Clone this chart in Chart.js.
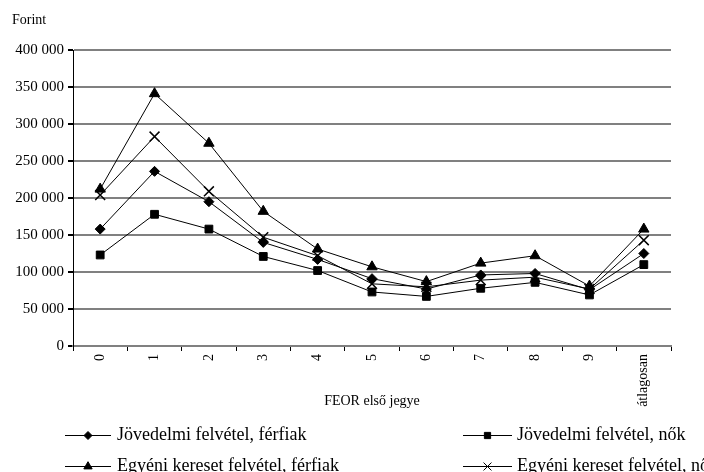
<!DOCTYPE html>
<html>
<head>
<meta charset="utf-8">
<script src="https://cdn.jsdelivr.net/npm/chart.js@4/dist/chart.umd.min.js"></script>
<style>
html,body{margin:0;padding:0;background:#fff;}
canvas{display:block;}
</style>
</head>
<body>
<canvas id="c" width="704" height="472"></canvas>
<script>
const categories = ['0','1','2','3','4','5','6','7','8','9','átlagosan'];
const jovedelmiFerfiak = [158000, 236000, 195000, 140000, 117000, 91000, 77000, 96000, 98000, 76000, 125000];
const jovedelmiNok     = [123000, 178000, 158000, 121000, 102000, 73000, 67000, 78000, 86000, 69000, 110000];
const egyeniFerfiak    = [212000, 341000, 274000, 182000, 131000, 107000, 87000, 112000, 122000, 81000, 158000];
const egyeniNok        = [204000, 283000, 209000, 147000, 122000, 84000, 80000, 89000, 93000, 77000, 143000];
const seriesNames = ['Jövedelmi felvétel, férfiak','Jövedelmi felvétel, nők','Egyéni kereset felvétel, férfiak','Egyéni kereset felvétel, nők'];
const yTitle = 'Forint';
const xTitle = 'FEOR első jegye';

const SERIF = '"Liberation Serif", "Times New Roman", serif';

function ds(label, data, style, radius) {
  return {
    label, data,
    borderColor: '#000', backgroundColor: '#000',
    borderWidth: 1,
    pointStyle: style, pointRadius: radius, pointHoverRadius: radius,
    pointBorderColor: '#000', pointBackgroundColor: '#000', pointBorderWidth: 1,
    tension: 0, fill: false
  };
}

const datasets = [
  ds(seriesNames[0], jovedelmiFerfiak, 'rectRot', 5),
  ds(seriesNames[1], jovedelmiNok, 'rect', 5.5),
  ds(seriesNames[2], egyeniFerfiak, 'triangle', 6),
  ds(seriesNames[3], egyeniNok, 'crossRot', 7)
];
datasets[3].pointBorderWidth = 1.5;

const legendLayout = [
  {x1: 65, x2: 111, tx: 117, y: 435},
  {x1: 463, x2: 512, tx: 517, y: 435},
  {x1: 65, x2: 111, tx: 117, y: 466},
  {x1: 463, x2: 512, tx: 517, y: 466}
];

const extras = {
  id: 'extras',
  afterDraw(chart) {
    const ctx = chart.ctx;
    ctx.save();
    ctx.fillStyle = '#000';
    ctx.font = '14px ' + SERIF;
    ctx.textAlign = 'left';
    ctx.textBaseline = 'middle';
    ctx.fillText(yTitle, 12, 20);
    chart.data.datasets.forEach((d, i) => {
      const L = legendLayout[i];
      ctx.strokeStyle = '#000';
      ctx.lineWidth = 1;
      ctx.beginPath();
      ctx.moveTo(L.x1, L.y + 0.5);
      ctx.lineTo(L.x2, L.y + 0.5);
      ctx.stroke();
      const mx = (L.x1 + L.x2) / 2;
      Chart.helpers.drawPoint(ctx, {
        pointStyle: d.pointStyle, radius: d.pointRadius * 0.8, rotation: 0, borderWidth: d.pointBorderWidth
      }, mx, L.y + 0.5);
      ctx.fillStyle = '#000';
      ctx.font = '18px ' + SERIF;
      ctx.textBaseline = 'middle';
      ctx.fillText(d.label, L.tx, L.y);
    });
    ctx.restore();
  }
};

new Chart(document.getElementById('c'), {
  type: 'line',
  data: { labels: categories, datasets },
  plugins: [extras],
  options: {
    responsive: false,
    animation: false,
    devicePixelRatio: 1,
    layout: { padding: { top: 50, right: 33, left: 0, bottom: 0 } },
    plugins: { legend: { display: false }, tooltip: { enabled: false } },
    scales: {
      x: {
        type: 'category',
        offset: true,
        afterFit(s) { s.height = 126; },
        grid: { display: true, offset: true, drawOnChartArea: false, drawTicks: true, tickLength: 5, color: '#000', lineWidth: 1 },
        border: { display: true, color: '#808080', width: 2 },
        ticks: { color: '#000', font: { family: SERIF, size: 14 }, minRotation: 90, maxRotation: 90, padding: 3, autoSkip: false },
        title: { display: true, text: xTitle, color: '#000', font: { family: SERIF, size: 14 }, padding: { top: 0, bottom: 62 } }
      },
      y: {
        min: 0, max: 400000,
        afterFit(s) { s.width = 73; },
        grid: { color: '#808080', lineWidth: 2, tickColor: '#000', tickLength: 5, drawTicks: true },
        border: { display: true, color: '#000', width: 1 },
        ticks: {
          stepSize: 50000, color: '#000', padding: 4,
          font: { family: SERIF, size: 15 },
          callback: v => String(v).replace(/\B(?=(\d{3})+(?!\d))/g, ' ')
        }
      }
    }
  }
});
</script>
</body>
</html>
